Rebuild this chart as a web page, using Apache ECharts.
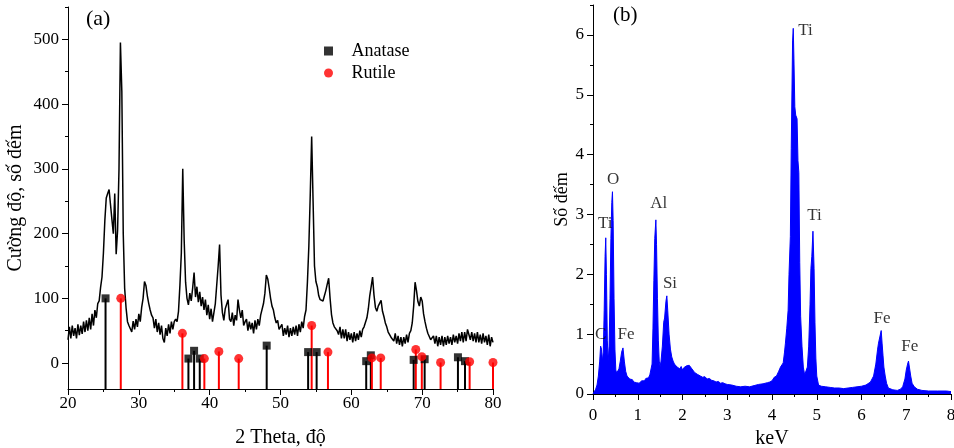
<!DOCTYPE html>
<html>
<head>
<meta charset="utf-8">
<script src="https://cdn.jsdelivr.net/npm/echarts@6/dist/echarts.min.js"></script>
<style>
  html, body { margin: 0; padding: 0; background: #fff; }
  #chart { width: 954px; height: 448px; }
</style>
</head>
<body>
<div id="chart"></div>
<script>
// (a) XRD: cường độ đo từ 20° tới 80°, bước 0.2°
const xrdStart = 20;
const xrdStep = 0.2;
const xrdValues = [
  36, 56, 38, 58, 42,   54, 38, 60, 43, 58,   45, 64, 48, 66, 50,   70, 52, 76, 58, 82,
  70, 92, 96, 117, 133, 170, 220, 255, 262, 268, 245, 222, 200, 262, 168, 205, 300, 495, 420, 200,
  115, 85, 64, 58, 60,  48, 65, 52, 68, 56,   76, 64, 86, 100, 126, 120, 104, 92, 82, 74,
  70, 54, 68, 48, 62,   44, 58, 38, 32, 54,   42, 60, 46, 64, 52,   64, 68, 64, 80, 120,
  170, 300, 190, 125, 100, 90, 108, 96, 116, 140, 102, 118, 94, 110, 88, 102, 82, 98, 74, 90,
  68, 84, 64, 78, 92,   95, 150, 183, 105, 78, 66, 84, 84, 98, 68,   64, 78, 58, 74, 66,
  98, 82, 70, 82, 58,   64, 68, 50, 64, 52,   62, 46, 66, 52, 68,   58, 74, 74, 92, 108,
  136, 130, 116, 100, 88, 82, 70, 62, 66, 52, 52, 60, 42, 54, 44,   58, 40, 54, 42, 56,
  44, 58, 42, 60, 48,   64, 54, 72, 82, 125,  180, 260, 350, 250, 150, 126, 118, 104, 98, 100,
  96, 104, 112, 122, 131, 100, 75, 62, 56, 56, 50, 44, 56, 38, 52,  38, 52, 34, 48, 36,
  46, 32, 48, 34, 46,   36, 50, 40, 52, 56,   58, 70, 84, 104, 118, 133, 105, 86, 80, 88,
  88, 97, 80, 72, 62,   56, 48, 46, 40, 42,   34, 46, 30, 42, 28,   40, 26, 40, 30, 44,
  32, 46, 50, 62, 88,   125, 112, 95, 88, 102, 96, 76, 64, 54, 46,  48, 36, 38, 42, 30,
  42, 26, 40, 28, 42,   26, 40, 28, 42, 30,   40, 28, 44, 32, 42,   30, 46, 34, 48, 32,
  48, 34, 52, 54, 36,   48, 34, 46, 32, 48,   32, 44, 30, 46, 32,   42, 28, 44, 26, 40,
  32
];

// vạch chuẩn
const anataseAngles = [25.3, 37.0, 37.8, 38.6, 48.05, 53.9, 55.1, 62.1, 62.75, 68.8, 70.35, 75.05, 76.05];
const anataseValues = [100, 7, 19, 7, 27, 17, 17, 3, 12, 5, 6, 9, 3];
const rutileAngles = [27.45, 36.15, 39.25, 41.3, 44.1, 54.4, 56.7, 62.9, 64.15, 69.1, 69.95, 72.6, 76.7, 80.0];
const rutileValues = [100, 46, 7, 18, 7, 58, 17, 8, 8, 21, 10, 1, 2, 1];

// (b) EDS: [keV, số đếm]
const edsPoints = [
  [0, 0], [0.03, 0.02], [0.06, 0.08], [0.09, 0.15], [0.12, 0.3], [0.15, 0.55], [0.17, 0.8], [0.19, 0.75],
  [0.21, 0.55], [0.23, 0.7], [0.25, 1.4], [0.27, 2.3], [0.285, 2.61], [0.3, 2.0], [0.32, 0.9], [0.34, 0.55],
  [0.36, 0.8], [0.38, 1.6], [0.4, 2.6], [0.42, 3.2], [0.435, 3.38], [0.45, 2.9], [0.47, 1.6], [0.49, 0.75],
  [0.51, 0.4], [0.53, 0.35], [0.55, 0.38], [0.58, 0.42], [0.61, 0.55], [0.64, 0.7], [0.67, 0.77], [0.7, 0.55],
  [0.73, 0.38], [0.76, 0.3], [0.79, 0.27], [0.82, 0.25], [0.85, 0.22], [0.88, 0.24], [0.91, 0.2], [0.94, 0.22],
  [0.97, 0.19], [1.0, 0.21], [1.03, 0.18], [1.06, 0.2], [1.09, 0.22], [1.12, 0.24], [1.15, 0.22], [1.18, 0.26],
  [1.21, 0.28], [1.24, 0.27], [1.27, 0.32], [1.3, 0.35], [1.32, 0.5], [1.34, 1.1], [1.36, 1.9], [1.38, 2.6],
  [1.405, 2.91], [1.42, 2.5], [1.44, 1.6], [1.46, 0.9], [1.48, 0.55], [1.5, 0.46], [1.52, 0.55], [1.55, 0.8],
  [1.58, 1.2], [1.6, 1.27], [1.63, 1.55], [1.65, 1.64], [1.67, 1.4], [1.7, 1.0], [1.73, 0.75], [1.76, 0.62],
  [1.79, 0.55], [1.82, 0.5], [1.85, 0.52], [1.88, 0.45], [1.91, 0.48], [1.94, 0.42], [1.97, 0.46], [2.0, 0.4],
  [2.03, 0.44], [2.06, 0.42], [2.09, 0.47], [2.12, 0.45], [2.15, 0.48], [2.18, 0.46], [2.21, 0.42], [2.24, 0.4],
  [2.27, 0.36], [2.3, 0.38], [2.33, 0.33], [2.36, 0.35], [2.4, 0.3], [2.45, 0.28], [2.5, 0.29], [2.55, 0.25],
  [2.6, 0.26], [2.65, 0.23], [2.7, 0.22], [2.75, 0.2], [2.8, 0.21], [2.85, 0.18], [2.9, 0.19], [2.95, 0.17],
  [3.0, 0.16], [3.1, 0.15], [3.2, 0.13], [3.3, 0.12], [3.4, 0.13], [3.5, 0.12], [3.6, 0.14], [3.7, 0.16],
  [3.8, 0.17], [3.9, 0.19], [3.95, 0.2], [4.0, 0.22], [4.05, 0.28], [4.1, 0.3], [4.15, 0.38], [4.19, 0.45],
  [4.22, 0.48], [4.25, 0.52], [4.28, 0.7], [4.3, 0.85], [4.33, 1.1], [4.36, 1.4], [4.38, 2.0], [4.41, 2.63],
  [4.43, 4.1], [4.46, 5.9], [4.475, 6.11], [4.49, 5.6], [4.51, 4.8], [4.53, 4.66], [4.56, 4.6], [4.58, 3.9],
  [4.6, 3.7], [4.62, 2.2], [4.64, 1.3], [4.67, 0.8], [4.7, 0.45], [4.73, 0.32], [4.76, 0.3], [4.79, 0.45],
  [4.82, 0.8], [4.85, 1.5], [4.87, 2.1], [4.89, 2.3], [4.915, 2.72], [4.94, 2.1], [4.96, 1.2], [4.98, 0.6],
  [5.0, 0.3], [5.04, 0.15], [5.1, 0.13], [5.2, 0.12], [5.3, 0.11], [5.4, 0.1], [5.5, 0.1], [5.6, 0.09],
  [5.7, 0.1], [5.8, 0.11], [5.9, 0.12], [6.0, 0.13], [6.1, 0.15], [6.2, 0.2], [6.27, 0.3], [6.32, 0.5],
  [6.36, 0.75], [6.38, 0.85], [6.41, 0.88], [6.44, 1.06], [6.46, 0.85], [6.48, 0.65], [6.5, 0.45], [6.53, 0.3],
  [6.56, 0.18], [6.6, 0.1], [6.7, 0.07], [6.8, 0.06], [6.87, 0.08], [6.92, 0.12], [6.97, 0.25], [7.0, 0.4],
  [7.03, 0.5], [7.05, 0.55], [7.07, 0.45], [7.1, 0.3], [7.13, 0.18], [7.18, 0.12], [7.25, 0.08], [7.35, 0.06],
  [7.5, 0.05], [7.7, 0.05], [7.9, 0.05], [8.0, 0.04]
];

// nhãn nguyên tố trên phổ EDS
const edsLabels = ['C', 'Ti', 'O', 'Fe', 'Al', 'Si', 'Ti', 'Ti', 'Fe', 'Fe'];
const edsLabelPos = [[0.17, 1.0], [0.275, 2.85], [0.45, 3.58], [0.74, 1.0], [1.47, 3.19],
  [1.72, 1.85], [4.75, 6.07], [4.95, 2.98], [6.46, 1.26], [7.08, 0.8]];

const yTicksA = [0, 100, 200, 300, 400, 500];
const yMinorA = [50, 150, 250, 350, 450, 550];
const yTicksB = [0, 1, 2, 3, 4, 5, 6];
const yMinorB = [0.5, 1.5, 2.5, 3.5, 4.5, 5.5, 6.5];

const FONT = 'Liberation Serif';
const Y_MIN_A = -40;

const xrdData = xrdValues.map((v, i) => [+(xrdStart + i * xrdStep).toFixed(1), v]);

function stemRenderer(color) {
    return function (params, api) {
        const top = api.coord([api.value(0), api.value(1)]);
        const base = api.coord([api.value(0), Y_MIN_A]);
        return {
            type: 'line',
            shape: { x1: top[0], y1: top[1], x2: base[0], y2: base[1] },
            style: { stroke: color, lineWidth: 2 }
        };
    };
}

function axisStyle(extra) {
    return Object.assign({
        type: 'value',
        splitLine: { show: false },
        axisLine: { show: true, onZero: false, lineStyle: { color: '#000', width: 1 } },
        axisTick: { show: true, length: 6, lineStyle: { color: '#000' } },
        axisLabel: { color: '#000', fontSize: 17, fontFamily: FONT },
        nameTextStyle: { color: '#000', fontSize: 20, fontFamily: FONT }
    }, extra);
}

const chart = echarts.init(document.getElementById('chart'));
const option = {
    animation: false,
    backgroundColor: '#fff',
    title: [
        { text: '(a)', left: 86, top: 8, padding: 0, textStyle: { fontFamily: FONT, fontSize: 22, fontWeight: 'normal', color: '#000' } },
        { text: '(b)', left: 613, top: 5, padding: 0, textStyle: { fontFamily: FONT, fontSize: 21, fontWeight: 'normal', color: '#000' } }
    ],
    legend: {
        left: 319, top: 37, orient: 'vertical', itemGap: 4,
        itemWidth: 9, itemHeight: 9,
        formatter: name => '   ' + name,
        textStyle: { fontFamily: FONT, fontSize: 18, color: '#000' },
        data: [{ name: 'Anatase', icon: 'rect' }, { name: 'Rutile', icon: 'circle' }]
    },
    grid: [
        { left: 68, top: 7, width: 425, height: 382, outerBoundsMode: 'none' },
        { left: 593, top: 5, width: 358, height: 389, outerBoundsMode: 'none' }
    ],
    xAxis: [
        axisStyle({
            gridIndex: 0, min: 20, max: 80, interval: 10,
            name: '2 Theta, độ', nameLocation: 'middle', nameGap: 39,
            axisLabel: { color: '#000', fontSize: 17, fontFamily: FONT, margin: 6 },
            minorTick: { show: true, splitNumber: 2, length: 3, lineStyle: { color: '#000' } }
        }),
        axisStyle({
            gridIndex: 1, min: 0, max: 8, interval: 1,
            name: 'keV', nameLocation: 'middle', nameGap: 21,
            axisLabel: { color: '#000', fontSize: 17, fontFamily: FONT, margin: 13 },
            minorTick: { show: true, splitNumber: 2, length: 3, lineStyle: { color: '#000' } }
        })
    ],
    yAxis: [
        axisStyle({
            gridIndex: 0, position: 'left', min: Y_MIN_A, max: 550,
            name: 'Cường độ, số đếm', nameLocation: 'middle', nameGap: 42,
            axisTick: { show: true, length: 6, customValues: yTicksA, lineStyle: { color: '#000' } },
            axisLabel: { color: '#000', fontSize: 17, fontFamily: FONT, margin: 9, customValues: yTicksA }
        }),
        axisStyle({
            gridIndex: 0, position: 'left', min: Y_MIN_A, max: 550,
            axisLine: { show: false, onZero: false },
            axisLabel: { show: false },
            axisTick: { show: true, length: 3, customValues: yMinorA, lineStyle: { color: '#000' } }
        }),
        axisStyle({
            gridIndex: 1, position: 'left', min: 0, max: 6.5,
            name: 'Số đếm', nameLocation: 'middle', nameGap: 22,
            nameTextStyle: { color: '#000', fontSize: 18, fontFamily: FONT },
            axisTick: { show: true, length: 6, customValues: yTicksB, lineStyle: { color: '#000' } },
            axisLabel: { color: '#000', fontSize: 17, fontFamily: FONT, margin: 9, customValues: yTicksB }
        }),
        axisStyle({
            gridIndex: 1, position: 'left', min: 0, max: 6.5,
            axisLine: { show: false, onZero: false },
            axisLabel: { show: false },
            axisTick: { show: true, length: 3, customValues: yMinorB, lineStyle: { color: '#000' } }
        })
    ],
    series: [
        {
            type: 'line', name: 'XRD', xAxisIndex: 0, yAxisIndex: 0,
            data: xrdData, showSymbol: false, symbol: 'none', sampling: null,
            lineStyle: { color: '#000', width: 1.5 }, z: 2, silent: true
        },
        {
            type: 'custom', name: 'Anatase vạch', xAxisIndex: 0, yAxisIndex: 0,
            renderItem: stemRenderer('#000'),
            data: anataseAngles.map((a, i) => [a, anataseValues[i]]), z: 3
        },
        {
            type: 'custom', name: 'Rutile vạch', xAxisIndex: 0, yAxisIndex: 0,
            renderItem: stemRenderer('#ff0000'),
            data: rutileAngles.map((a, i) => [a, rutileValues[i]]), z: 3
        },
        {
            type: 'scatter', name: 'Anatase', xAxisIndex: 0, yAxisIndex: 0,
            symbol: 'rect', symbolSize: 8, itemStyle: { color: '#000' },
            data: anataseAngles.map((a, i) => [a, anataseValues[i]]), z: 4
        },
        {
            type: 'scatter', name: 'Rutile', xAxisIndex: 0, yAxisIndex: 0,
            symbol: 'circle', symbolSize: 9, itemStyle: { color: '#ff0000' },
            data: rutileAngles.map((a, i) => [a, rutileValues[i]]), z: 4
        },
        {
            type: 'line', name: 'EDS', xAxisIndex: 1, yAxisIndex: 2,
            data: edsPoints, showSymbol: false, symbol: 'none',
            lineStyle: { color: '#0000ff', width: 1 },
            areaStyle: { color: '#0000ff', opacity: 1 }, silent: true
        },
        {
            type: 'scatter', name: 'nhãn', xAxisIndex: 1, yAxisIndex: 2,
            symbolSize: 0, silent: true,
            data: edsLabelPos.map((p, i) => ({ value: p, name: edsLabels[i] })),
            label: {
                show: true, position: 'inside', formatter: '{b}',
                fontFamily: FONT, fontSize: 17, color: '#000'
            }, z: 5
        }
    ]
};
chart.setOption(option);
</script>
</body>
</html>
